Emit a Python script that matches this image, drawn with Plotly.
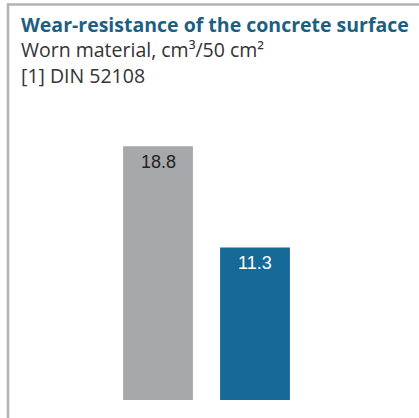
import plotly.graph_objects as go

categories = ["A", "B"]
values = [18.8, 11.3]
bar_colors = ["#a7a8ab", "#166a98"]
label_colors = ["#222222", "#ffffff"]
title = "Wear-resistance of the concrete surface"
subtitle_lines = ["Worn material, cm³/50 cm²", "[1] DIN 52108"]

W, H = 419, 418
ml, mr, mt, mb = 0, 0, 130, 18
ph = H - mt - mb
pw = W - ml - mr

def py(pix):
    # pixel y (from top) -> paper y
    return (H - mb - pix) / ph

def px(pix):
    return (pix - ml) / pw

fig = go.Figure()
fig.add_trace(go.Bar(
    x=[0, 1], y=values,
    marker=dict(color=bar_colors, line=dict(width=0)),
    width=0.72,
    hoverinfo="skip",
))

step = 97.0
x0pix = 158.0
fig.update_xaxes(range=[-(x0pix - ml) / step, (W - mr - x0pix) / step],
                 visible=False, fixedrange=True)
fig.update_yaxes(range=[0, 20], visible=False, fixedrange=True)

shapes = [
    dict(type="line", xref="paper", yref="paper",
         x0=px(8), x1=px(W + 5), y0=py(4.5), y1=py(4.5),
         line=dict(color="#b3b3b3", width=2.5)),
    dict(type="line", xref="paper", yref="paper",
         x0=px(8), x1=px(8), y0=py(3.3), y1=py(H + 5),
         line=dict(color="#b3b3b3", width=2.5)),
]

header = (f"<b><span style='color:#1d5f82'>{title}</span></b><br>"
          + "<br>".join(subtitle_lines))

annotations = [
    dict(text=header, xref="paper", yref="paper", align="left",
         x=px(19), y=py(50.5), xanchor="left", yanchor="middle", showarrow=False,
         font=dict(family="Open Sans", size=19.5, color="#333333")),
]

for i, v in enumerate(values):
    annotations.append(dict(
        text=f"{v:.1f}", x=i, y=v, xref="x", yref="y",
        xanchor="center", yanchor="middle", yshift=-15.5, showarrow=False,
        font=dict(family="Liberation Sans, Arial", size=18, color=label_colors[i]),
    ))

fig.update_layout(
    width=W, height=H,
    margin=dict(l=ml, r=mr, t=mt, b=mb, pad=0),
    paper_bgcolor="white", plot_bgcolor="white",
    showlegend=False,
    shapes=shapes,
    annotations=annotations,
)

fig.write_html("out.html", config={"displayModeBar": False},
               post_script="document.body.style.margin='0';document.body.style.padding='0';")
